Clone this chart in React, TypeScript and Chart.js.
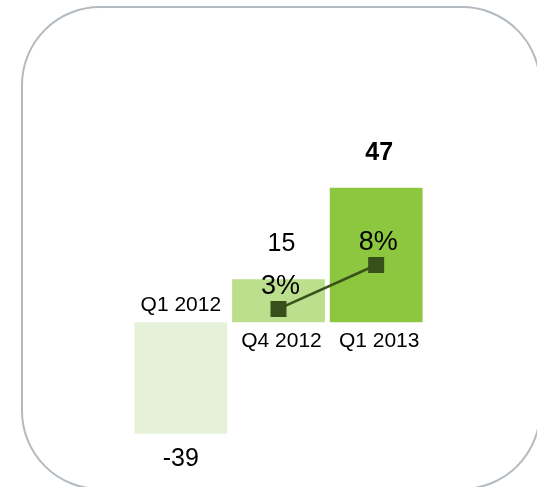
import React, { useEffect, useRef } from "react";
import { Chart, registerables } from "chart.js";

Chart.register(...registerables);

const categories = ["Q1 2012", "Q4 2012", "Q1 2013"];
const barValues = [-39, 15, 47];
const growthValues: (number | null)[] = [null, 3, 8];
const barColors = ["#e5f2d9", "#bcdf8d", "#8dc63f"];
const boldValue = [false, false, true];

const FONT = "'Liberation Sans', Arial, Helvetica, sans-serif";

export default function App() {
  const ref = useRef<HTMLCanvasElement>(null);

  useEffect(() => {
    if (!ref.current) return;

    const decorPlugin = {
      id: "decor",
      beforeDraw(chart: any) {
        const ctx = chart.ctx as CanvasRenderingContext2D;
        ctx.save();
        ctx.strokeStyle = "#b3bac0";
        ctx.lineWidth = 2;
        ctx.beginPath();
        (ctx as any).roundRect(22, 7, 518, 482, 78);
        ctx.stroke();
        ctx.restore();
      },
      afterDatasetsDraw(chart: any) {
        const ctx = chart.ctx as CanvasRenderingContext2D;
        const barMeta = chart.getDatasetMeta(0);
        const lineMeta = chart.getDatasetMeta(1);
        const y0 = chart.scales.y.getPixelForValue(0);
        ctx.save();
        ctx.fillStyle = "#000000";
        ctx.textAlign = "center";
        ctx.textBaseline = "alphabetic";
        barMeta.data.forEach((bar: any, i: number) => {
          const v = barValues[i];
          const x = bar.x;
          ctx.font = `21px ${FONT}`;
          if (v < 0) ctx.fillText(categories[i], x, y0 - 11);
          else ctx.fillText(categories[i], x + 3, y0 + 25);
          ctx.font = `${boldValue[i] ? "bold " : ""}25px ${FONT}`;
          if (v < 0) ctx.fillText(String(v), x, bar.y + 32);
          else ctx.fillText(String(v), x + 3, bar.y - 28);
        });
        lineMeta.data.forEach((pt: any, i: number) => {
          const v = growthValues[i];
          if (v == null) return;
          ctx.font = `27px ${FONT}`;
          ctx.fillText(`${v}%`, pt.x + 2, pt.y - 15);
        });
        ctx.restore();
      },
    };

    const chart = new Chart(ref.current, {
      type: "bar",
      data: {
        labels: categories,
        datasets: [
          {
            type: "bar",
            data: barValues,
            backgroundColor: barColors,
            borderWidth: 0,
            categoryPercentage: 1,
            barPercentage: 0.95,
            yAxisID: "y",
            order: 1,
          } as any,
          {
            type: "line",
            data: growthValues,
            borderColor: "#3a5219",
            borderWidth: 2.5,
            backgroundColor: "#374f1a",
            pointStyle: "rect",
            pointRadius: 11.3,
            pointBorderWidth: 0,
            pointBackgroundColor: "#374f1a",
            yAxisID: "y2",
            order: 0,
          } as any,
        ],
      },
      options: {
        responsive: false,
        animation: false,
        devicePixelRatio: 1,
        layout: { padding: { left: 132, right: 112, top: 0, bottom: 0 } },
        plugins: {
          legend: { display: false },
          tooltip: { enabled: false },
          title: { display: false },
        },
        scales: {
          x: { display: false, offset: true, grid: { display: false } },
          y: { display: false, min: -53.67, max: 108.67 },
          y2: { display: false, min: -16.0, max: 36.9 },
        },
      } as any,
      plugins: [decorPlugin],
    });

    return () => chart.destroy();
  }, []);

  return (
    <canvas
      ref={ref}
      width={537}
      height={487}
      style={{ position: "fixed", left: 0, top: 0, width: 537, height: 487 }}
    />
  );
}
